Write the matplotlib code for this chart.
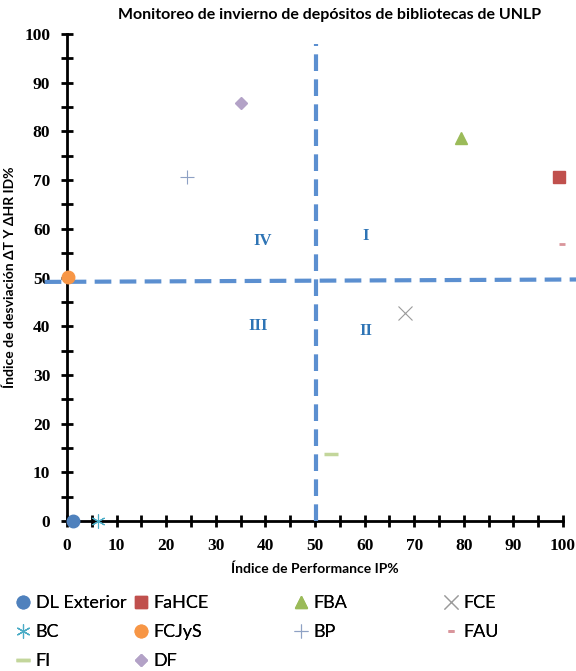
import matplotlib
matplotlib.use('Agg')
import matplotlib.pyplot as plt
from matplotlib.ticker import MultipleLocator

# datos (IP%, ID%)
names = ['DL Exterior', 'FaHCE', 'FBA', 'FCE', 'BC', 'FCJyS', 'BP', 'FAU', 'FI', 'DF']
ip = [1.2, 99.2, 79.4, 68.2, 6.3, 0.3, 24.2, 99.8, 53.2, 35.1]
idv = [0.0, 70.6, 78.6, 42.7, 0.0, 50.1, 70.6, 56.9, 13.8, 85.8]
colors = ['#4F81BD', '#C0504D', '#9BBB59', '#9a9a9a', '#4BACC6', '#F79646',
          '#8ea1c4', '#d9959b', '#c3d69b', '#b3a2c7']
markers = ['o', 's', '^', 'x', '*', 'o', '+', '_', '_', 'D']
sizes = [9, 8, 9, 10, 10, 9, 10, 4, 10, 6]
mew = [1, 1, 1, 0.8, 0.8, 1, 0.8, 2, 2.5, 1]

quad_lbl = ['IV', 'I', 'III', 'II']
quad_x = [39.5, 60.3, 38.5, 60.3]
quad_y = [57.5, 58.5, 40.0, 39.0]

fig = plt.figure(figsize=(5.76, 6.71), dpi=100)
ax = fig.add_axes([0.1163, 0.2235, 0.8611, 0.7258])

handles = {}
for n, x, y, c, m, s, w in zip(names, ip, idv, colors, markers, sizes, mew):
    if m in ('x', '+', '_'):
        h, = ax.plot([x], [y], ls='none', marker=m, ms=s, mew=w, color=c, clip_on=False, zorder=4)
    elif m == '*':
        h, = ax.plot([x], [y], ls='none', marker=(6, 2, 0), ms=s, mew=w, color=c, clip_on=False, zorder=4)
    else:
        h, = ax.plot([x], [y], ls='none', marker=m, ms=s, mfc=c, mec=c, color=c, clip_on=False, zorder=4)
    handles[n] = h

# lineas de cuadrantes
ax.plot([50.2, 50.2], [0, 97.9], color='#5B8FD0', lw=3, dashes=(4, 2), clip_on=False, zorder=3)
ax.plot([-4.5, 103], [49.1, 49.6], color='#5B8FD0', lw=3, dashes=(4, 2), clip_on=False, zorder=3)

for t, x, y in zip(quad_lbl, quad_x, quad_y):
    ax.text(x, y, t, color='#2E74B5', fontsize=12, fontweight='bold',
            family='Liberation Serif', ha='center', va='center')

ax.set_xlim(0, 100)
ax.set_ylim(0, 100)
for s in ['top', 'right']:
    ax.spines[s].set_visible(False)
for s in ['left', 'bottom']:
    ax.spines[s].set_linewidth(2)
ax.xaxis.set_major_locator(MultipleLocator(10))
ax.yaxis.set_major_locator(MultipleLocator(10))
ax.xaxis.set_minor_locator(MultipleLocator(5))
ax.yaxis.set_minor_locator(MultipleLocator(5))
ax.tick_params(which='both', direction='inout', length=8, width=2)
ax.tick_params(axis='x', pad=8)
ax.tick_params(axis='y', pad=8)
for lab in ax.get_xticklabels() + ax.get_yticklabels():
    lab.set_family('Liberation Serif')
    lab.set_fontweight('bold')
    lab.set_fontsize(12.5)

ax.set_xlabel('Índice de Performance IP%', fontsize=10, fontweight='bold', family='Lato', labelpad=6)
ax.set_ylabel('Índice de desviación ΔT Y ΔHR ID%', fontsize=10, fontweight='bold', family='Lato', labelpad=6)
fig.text(0.573, 0.977, 'Monitoreo de invierno de depósitos de bibliotecas de UNLP',
         ha='center', va='center', fontsize=11.5, fontweight='bold', family='Lato')

# leyenda en 4 columnas de ancho fijo
cols = [['DL Exterior', 'BC', 'FI'], ['FaHCE', 'FCJyS', 'DF'], ['FBA', 'BP'], ['FCE', 'FAU']]
col_x = [14, 132, 292, 442]
for names_c, cx in zip(cols, col_x):
    lg = fig.legend([handles[n] for n in names_c], names_c, loc='upper left',
                    bbox_to_anchor=(cx / 576, 1 - 595 / 671), frameon=False,
                    prop={'family': 'Lato', 'size': 13}, borderpad=0, borderaxespad=0,
                    handletextpad=0.2, handlelength=1.0, labelspacing=0.72)
    fig.add_artist(lg)

plt.savefig('out.png', dpi=100)
